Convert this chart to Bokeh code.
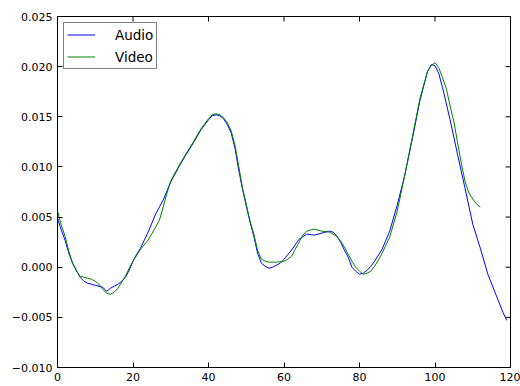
from bokeh.plotting import figure
from bokeh.models import (FixedTicker, CustomJSTickFormatter, LinearAxis, Legend, LegendItem)
from bokeh.embed import file_html
from bokeh.resources import INLINE

audio_x = [0, 1, 2, 3, 4, 5, 6, 7, 8, 9, 10, 11, 12, 13, 14, 15, 16, 17, 18, 19, 20, 21, 22, 24, 26, 28,
           30, 32, 34, 36, 38, 40, 41, 42, 43, 44, 45, 46, 47, 48, 49, 50, 51, 52, 53, 54, 55, 56, 57, 58,
           59, 60, 62, 64, 66, 68, 70, 72, 73, 74, 75, 76, 77, 78, 79, 80, 81, 82, 83, 84, 86, 88, 90, 92,
           94, 96, 98, 99, 100, 101, 102, 104, 106, 108, 110, 112, 114, 116, 118, 119]
audio_y = [0.0049, 0.0037, 0.0027, 0.0014, 0.0004, -0.0003, -0.0010, -0.0014, -0.0016, -0.0017, -0.0018,
           -0.0019, -0.0020, -0.0024, -0.0021, -0.0019, -0.0017, -0.0014, -0.0010, -0.0003, 0.0006, 0.0013,
           0.0019, 0.0035, 0.0053, 0.0067, 0.0085, 0.0099, 0.0112, 0.0124, 0.0137, 0.0147, 0.0151, 0.0152,
           0.0151, 0.0148, 0.0142, 0.0134, 0.0119, 0.0097, 0.0078, 0.0061, 0.0045, 0.0031, 0.0014, 0.0004,
           0.0001, -0.0001, 0.0000, 0.0002, 0.0004, 0.0008, 0.0017, 0.0028, 0.0033, 0.0032, 0.0034, 0.0036,
           0.0035, 0.0031, 0.0025, 0.0017, 0.0010, 0.0000, -0.0004, -0.0007, -0.0006, -0.0003, 0.0001,
           0.0006, 0.0018, 0.0036, 0.0062, 0.0092, 0.0128, 0.0166, 0.0195, 0.0202, 0.0201, 0.0193, 0.0179,
           0.0147, 0.0112, 0.0078, 0.0043, 0.0019, -0.0007, -0.0026, -0.0045, -0.0053]

video_x = [0, 1, 2, 3, 4, 5, 6, 7, 8, 9, 10, 11, 12, 13, 14, 15, 16, 17, 18, 19, 20, 21, 22, 24, 26, 27,
           28, 29, 30, 32, 34, 36, 38, 40, 41, 42, 43, 44, 45, 46, 47, 48, 49, 50, 51, 52, 53, 54, 55, 56,
           58, 60, 61, 62, 63, 64, 65, 66, 68, 70, 72, 74, 75, 76, 77, 78, 79, 80, 81, 82, 83, 84, 85, 86,
           88, 90, 92, 94, 96, 98, 99, 100, 101, 102, 103, 104, 105, 106, 107, 108, 109, 110, 111, 112]
video_y = [0.0056, 0.0042, 0.0031, 0.0016, 0.0004, -0.0004, -0.0009, -0.0010, -0.0011, -0.0012, -0.0014,
           -0.0017, -0.0022, -0.0026, -0.0027, -0.0025, -0.0021, -0.0015, -0.0009, -0.0001, 0.0006, 0.0012,
           0.0018, 0.0027, 0.0040, 0.0047, 0.0060, 0.0074, 0.0086, 0.0100, 0.0113, 0.0125, 0.0138, 0.0148,
           0.0152, 0.0153, 0.0152, 0.0149, 0.0144, 0.0136, 0.0122, 0.0101, 0.0079, 0.0063, 0.0046, 0.0033,
           0.0017, 0.0008, 0.0006, 0.0005, 0.0005, 0.0006, 0.0008, 0.0011, 0.0018, 0.0025, 0.0032, 0.0036,
           0.0038, 0.0036, 0.0035, 0.0031, 0.0026, 0.0020, 0.0013, 0.0006, 0.0000, -0.0004, -0.0007,
           -0.0006, -0.0004, 0.0001, 0.0007, 0.0014, 0.0030, 0.0056, 0.0092, 0.0130, 0.0168, 0.0195, 0.0201,
           0.0204, 0.0199, 0.0189, 0.0178, 0.0161, 0.0145, 0.0124, 0.0103, 0.0085, 0.0074, 0.0068, 0.0063,
           0.0060]

x_ticks = [0, 20, 40, 60, 80, 100, 120]
y_ticks = [-0.010, -0.005, 0.000, 0.005, 0.010, 0.015, 0.020, 0.025]
series_names = ["Audio", "Video"]

FONT = "DejaVu Sans"
X_MIN, X_MAX = 0, 120
Y_MIN, Y_MAX = -0.010, 0.025

p = figure(width=520, height=386, output_backend="svg", toolbar_location=None,
           x_range=(X_MIN, X_MAX), y_range=(Y_MIN, Y_MAX),
           min_border_left=57, min_border_right=10, min_border_top=16, min_border_bottom=19,
           x_axis_location=None, y_axis_location=None)
p.grid.visible = False
p.outline_line_color = "black"
p.outline_line_width = 1
p.background_fill_color = "white"
p.border_fill_color = "white"

yfmt = CustomJSTickFormatter(code="return tick.toFixed(3).replace('-', '\u2212');")
xfmt = CustomJSTickFormatter(code="return tick.toFixed(0);")

def make_axis(ticks, formatter):
    ax = LinearAxis(ticker=FixedTicker(ticks=ticks), formatter=formatter)
    ax.axis_line_color = None
    ax.major_tick_in = 5
    ax.major_tick_out = 0
    ax.minor_tick_line_color = None
    ax.major_tick_line_color = "black"
    ax.major_label_text_font = FONT
    ax.major_label_text_font_size = "11px"
    ax.major_label_text_color = "black"
    ax.major_label_standoff = 5
    return ax

p.add_layout(make_axis(y_ticks, yfmt), "left")
p.add_layout(make_axis(x_ticks, xfmt), "below")

# inward ticks on the top and right frame edges (half of each dash is clipped by the frame)
p.scatter(x_ticks, [Y_MAX] * len(x_ticks), marker="dash", size=10, angle=1.5708,
          line_color="black", line_width=1)
p.scatter([X_MAX] * len(y_ticks), y_ticks, marker="dash", size=10,
          line_color="black", line_width=1)

r1 = p.line(audio_x, audio_y, line_color="#0000ff", line_width=1)
r2 = p.line(video_x, video_y, line_color="#008000", line_width=1)

legend = Legend(items=[LegendItem(label=series_names[0], renderers=[r1]),
                       LegendItem(label=series_names[1], renderers=[r2])],
                location="top_left")
legend.margin = 6
legend.padding = 3
legend.spacing = 5
legend.label_height = 17
legend.glyph_height = 17
legend.glyph_width = 28
legend.label_standoff = 20
legend.label_text_font = FONT
legend.label_text_font_size = "13.5px"
legend.label_text_color = "black"
legend.border_line_color = "black"
legend.border_line_width = 1
legend.background_fill_color = "white"
legend.background_fill_alpha = 1
p.add_layout(legend, "center")

open("out.html", "w").write(file_html(p, INLINE))
